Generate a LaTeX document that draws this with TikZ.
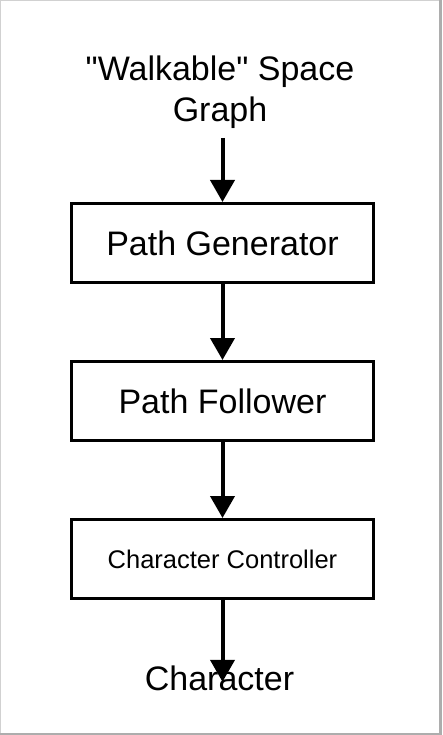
\documentclass[tikz,border=0pt]{standalone}
\usepackage{fontspec}
\setmainfont{Liberation Sans}
\usetikzlibrary{arrows.meta,positioning}

\begin{document}
\begin{tikzpicture}[
  x=1pt,y=-1pt,
  block/.style={draw,line width=3pt,minimum width=302pt,minimum height=79pt,inner sep=0pt,font=\fontsize{34}{37}\selectfont},
  label/.style={inner sep=0pt,font=\fontsize{34}{41}\selectfont},
  flow/.style={-{Triangle[length=22pt,width=24pt]},line width=4pt}
]
\useasboundingbox (0,0) rectangle (442,735);
\draw[line width=1pt,black!18] (0.5,734) -- (0.5,0.5) -- (441,0.5);
\fill[black!32] (438.5,0) rectangle (442,735);
\fill[black!32] (0,733) rectangle (442,735);
\node[label,align=center,anchor=north] (graph) at (220,56) {\textquotedbl Walkable\textquotedbl{} Space\\Graph};
\coordinate (in) at (222.5,138);
\node[block] (gen) at (222.5,243) {Path Generator};
\node[block] (follow) at (222.5,401) {Path Follower};
\node[block,font=\fontsize{25.5}{30}\selectfont] (ctrl) at (222.5,559) {Character Controller};
\node[label,anchor=base] (char) at (219.5,690) {Character};
\draw[flow] (in) -- (gen);
\draw[flow] (gen) -- (follow);
\draw[flow] (follow) -- (ctrl);
\draw[flow,shorten >=-4pt] (ctrl.south) -- (ctrl.south |- char.center);
\end{tikzpicture}
\end{document}
